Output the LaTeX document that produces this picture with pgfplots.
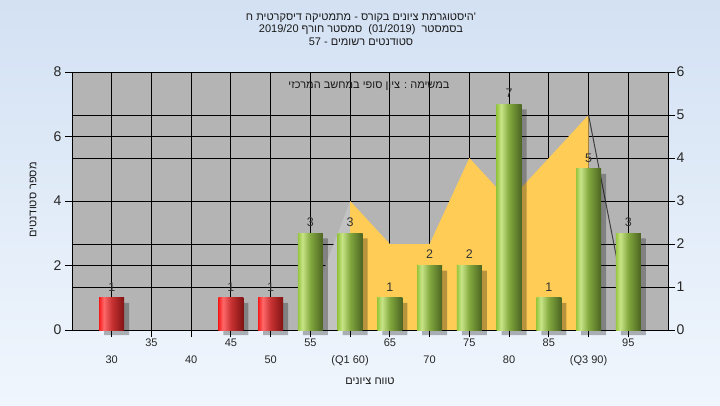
\documentclass[border=0pt]{standalone}
\usepackage{pgfplots}
\pgfplotsset{compat=1.18}
\usepackage{fontspec}
\setmainfont{Liberation Sans}
\newfontfamily\heb[Script=Hebrew]{Liberation Sans}
\TeXXeTstate=1
\definecolor{bgtop}{RGB}{211,225,243}
\definecolor{bgbot}{RGB}{240,246,253}
\definecolor{plotgray}{RGB}{180,180,180}
\definecolor{areay}{RGB}{255,204,85}
\definecolor{wedge}{RGB}{194,194,194}
\definecolor{gA}{RGB}{150,198,62}
\definecolor{gB}{RGB}{200,228,135}
\definecolor{gM}{RGB}{130,168,62}
\definecolor{gD}{RGB}{76,100,34}
\definecolor{rA}{RGB}{245,30,30}
\definecolor{rB}{RGB}{255,105,105}
\definecolor{rM}{RGB}{200,50,50}
\definecolor{rD}{RGB}{128,18,18}
\pgfdeclarehorizontalshading{greencyl}{100bp}{color(0bp)=(gA); color(25bp)=(gA); color(34bp)=(gB); color(50bp)=(gM); color(75bp)=(gD); color(100bp)=(gD)}
\pgfdeclarehorizontalshading{redcyl}{100bp}{color(0bp)=(rA); color(25bp)=(rA); color(34bp)=(rB); color(50bp)=(rM); color(75bp)=(rD); color(100bp)=(rD)}
\pgfplotsset{
  cylbar/.style={ybar, bar width=25pt, bar shift=0pt, draw=none,
    nodes near coords,
    every node near coord/.append style={font=\fontsize{12.5}{14}\selectfont, text=black!80, anchor=south, yshift=3pt}},
  redbar/.style={cylbar, shading=redcyl},
  greenbar/.style={cylbar, shading=greencyl},
}
\begin{document}
\begin{tikzpicture}
\shade[top color=bgtop, bottom color=bgbot] (0,0) rectangle (720pt,405pt);
% right-scale axis: background, grid, area
\begin{axis}[
  at={(72pt,75pt)}, anchor=south west, scale only axis,
  width=596pt, height=258pt,
  xmin=25, xmax=100, ymin=0, ymax=6,
  axis background/.style={fill=plotgray},
  axis line style={black, line width=0.9pt},
  xtick={30,35,...,95}, xticklabels={}, xmajorgrids,
  ytick={0,1,...,6}, ymajorgrids,
  extra y ticks={1.5,4.5}, extra y tick labels={},
  extra y tick style={major tick length=0pt, grid=major},
  grid style={black, line width=0.9pt},
  ytick pos=right, yticklabel pos=right, xtick pos=bottom,
  tick align=outside, major tick length=7pt,
  tick style={black, line width=0.9pt},
  /pgf/number format/assume math mode=true,
  yticklabel style={font=\fontsize{14}{16}\selectfont, text=black!85, xshift=-2pt},
]
\addplot[fill=wedge, draw=none] coordinates {(53.8,0) (60,3)} \closedcycle;
\addplot[fill=areay, draw=none] coordinates {(60,3) (65,2) (70,2) (75,4) (80,3) (85,4) (90,5)} \closedcycle;
\addplot[draw=black!75, line width=1pt] coordinates {(90,5) (95,0.3)};
\end{axis}
% left-scale axis: bars
\begin{axis}[
  at={(72pt,75pt)}, anchor=south west, scale only axis,
  width=596pt, height=258pt,
  xmin=25, xmax=100, ymin=0, ymax=8, clip=false,
  axis line style={black, line width=0.9pt},
  ytick={0,2,...,8}, ytick pos=left,
  xtick={35,45,...,95}, xtick pos=bottom,
  extra x ticks={30,40,50,60,70,80,90},
  extra x tick labels={30,40,50,{(Q1 60)},70,80,{(Q3 90)}},
  extra x tick style={xticklabel style={yshift=-17pt}},
  tick align=outside, major tick length=7pt,
  tick style={black, line width=0.9pt},
  /pgf/number format/assume math mode=true,
  yticklabel style={font=\fontsize{14}{16}\selectfont, text=black!85},
  xticklabel style={font=\fontsize{11}{13}\selectfont, text=black!85, yshift=2pt},
]
\addplot[ybar, bar width=25pt, bar shift=0pt, fill=black, opacity=0.28, draw=none, xshift=5pt, yshift=-5pt]
  coordinates {(30,1) (45,1) (50,1) (55,3) (60,3) (65,1) (70,2) (75,2) (80,7) (85,1) (90,5) (95,3)};
\addplot[redbar] coordinates {(30,1)};
\addplot[redbar] coordinates {(45,1)};
\addplot[redbar] coordinates {(50,1)};
\addplot[greenbar] coordinates {(55,3)};
\addplot[greenbar] coordinates {(60,3)};
\addplot[greenbar] coordinates {(65,1)};
\addplot[greenbar] coordinates {(70,2)};
\addplot[greenbar] coordinates {(75,2)};
\addplot[greenbar] coordinates {(80,7)};
\addplot[greenbar] coordinates {(85,1)};
\addplot[greenbar] coordinates {(90,5)};
\addplot[greenbar] coordinates {(95,3)};
\end{axis}
% texts
\begin{scope}[every node/.style={font=\heb\fontsize{11}{13}\selectfont, text=black!90, inner sep=0pt}]
\node at (361pt,387pt) {\beginR היסטוגרמת ציונים בקורס - מתמטיקה דיסקרטית ח\endR'};
\node at (361pt,375pt) {\beginR בסמסטר \ (01/2019) \ סמסטר חורף 2019/20\endR};
\node at (361pt,363pt) {\beginR סטודנטים רשומים - 57\endR};
\node at (369pt,319pt) {\beginR במשימה : ציון סופי במחשב המרכזי\endR};
\node[rotate=90] at (33pt,205pt) {\beginR מספר סטודנטים\endR};
\node at (370pt,24pt) {\beginR טווח ציונים\endR};
\end{scope}
\end{tikzpicture}
\end{document}
